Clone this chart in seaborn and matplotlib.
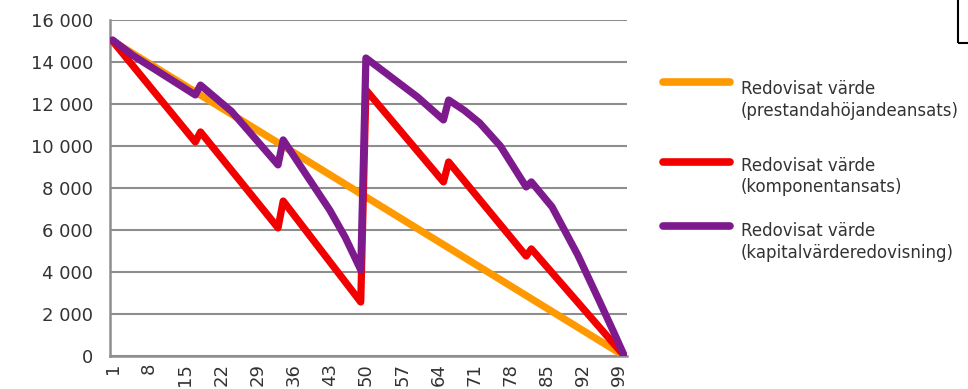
import matplotlib
matplotlib.use('Agg')
import matplotlib.pyplot as plt
import matplotlib.ticker as mticker
from matplotlib.lines import Line2D
from matplotlib.patches import Rectangle
import seaborn as sns
import pandas as pd

# values (year index 1..100, book value)
orange_years = [1, 100]
orange_values = [15000, 0]

red_years = [1, 17, 18, 33, 34, 49, 50, 65, 66, 81, 82, 100]
red_values = [15000, 10190, 10670, 6100, 7380, 2570, 12670, 8290, 9240, 4760, 5100, 0]

purple_years = [1, 5, 17, 18, 24, 33, 34, 38, 43, 46, 49, 50, 60, 65, 66, 69, 72, 76, 81,
                82, 86, 91, 95, 98, 100]
purple_values = [15050, 14300, 12430, 12900, 11650, 9100, 10290, 8800, 6950, 5650, 4100,
                 14190, 12330, 11240, 12190, 11700, 11100, 10000, 8050,
                 8290, 7100, 4800, 2700, 1100, 0]

series_labels = ["Redovisat värde\n(prestandahöjandeansats)",
                 "Redovisat värde\n(komponentansats)",
                 "Redovisat värde\n(kapitalvärderedovisning)"]
series_colors = ["#FF9900", "#F20000", "#7D1B8E"]

x_tick_labels = list(range(1, 100, 7))
y_ticks = [0, 2000, 4000, 6000, 8000, 10000, 12000, 14000, 16000]

sns.set_style("white")
plt.rcParams['font.family'] = ['DejaVu Sans']

fig = plt.figure(figsize=(9.68, 3.89), dpi=100)
ax = fig.add_axes([110 / 968, 1 - 356 / 389, 517 / 968, 336 / 389])

frames = [
    pd.DataFrame({"year": orange_years, "value": orange_values, "serie": series_labels[0]}),
    pd.DataFrame({"year": red_years, "value": red_values, "serie": series_labels[1]}),
    pd.DataFrame({"year": purple_years, "value": purple_values, "serie": series_labels[2]}),
]
for df, col in zip(frames, series_colors):
    sns.lineplot(data=df, x="year", y="value", color=col, lw=5.2, ax=ax,
                 legend=False, zorder=3)

ax.set_xlim(0.5, 100.5)
ax.set_ylim(0, 16000)
ax.set_xlabel("")
ax.set_ylabel("")

grid_col = "#8E8E8E"
ax.set_yticks(y_ticks)
ax.yaxis.set_major_formatter(mticker.FuncFormatter(lambda v, p: f"{int(v):,}".replace(",", " ")))
ax.grid(axis='y', color=grid_col, lw=1.5)
ax.set_axisbelow(True)

ax.set_xticks(x_tick_labels)
ax.set_xticklabels([str(v) for v in x_tick_labels], rotation=90, va='top')
ax.xaxis.set_minor_locator(mticker.FixedLocator([v + 0.5 for v in range(0, 101)]))
ax.tick_params(axis='x', which='major', length=0, pad=5, labelsize=13, labelcolor="#333333")
ax.tick_params(axis='x', which='minor', length=3, width=0.8, color=grid_col, direction='out')
ax.tick_params(axis='y', length=6, width=1.5, color=grid_col, pad=6, labelsize=13,
               labelcolor="#333333")

for s in ['top', 'right']:
    ax.spines[s].set_visible(False)
for s in ['left', 'bottom']:
    ax.spines[s].set_color(grid_col)
    ax.spines[s].set_linewidth(1.8)

# legend, drawn to the right of the plot like the original
W, H = 968, 389
leg_line_y = [82, 162, 226]
leg_text_y = [80, 157, 222]
for col, lab, ly, ty in zip(series_colors, series_labels, leg_line_y, leg_text_y):
    fig.add_artist(Line2D([663 / W, 730 / W], [1 - ly / H, 1 - ly / H], color=col, lw=5.5,
                          solid_capstyle='round'))
    fig.text(741 / W, 1 - ty / H, lab, ha='left', va='top', fontsize=12,
             color="#333333", linespacing=1.25)

# black frame fragment in the top right corner
fig.add_artist(Rectangle((958 / W, 1 - 43 / H), 0.2, 0.3, transform=fig.transFigure,
                         fill=False, ec='black', lw=1.5))

fig.savefig("out.png", dpi=100)
